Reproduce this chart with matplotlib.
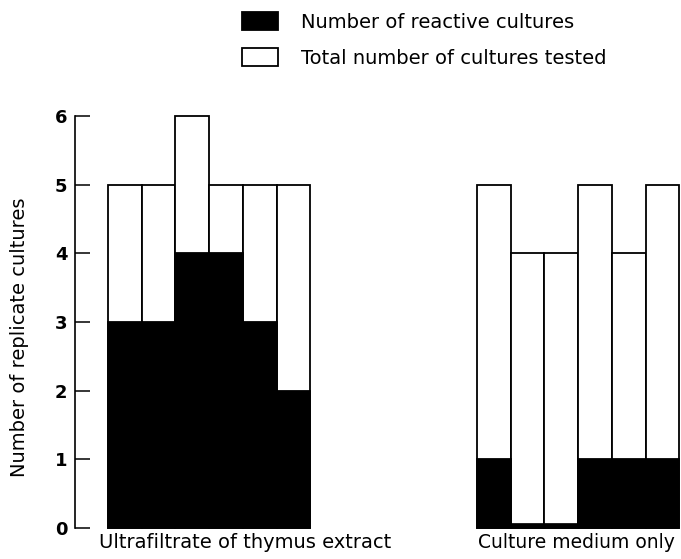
import numpy as np
import matplotlib
matplotlib.use("Agg")
import matplotlib.pyplot as plt
from matplotlib.patches import Patch
from matplotlib.transforms import blended_transform_factory

# counts per culture set
thymus_total = [5, 5, 6, 5, 5, 5]
thymus_reactive = [3, 3, 4, 4, 3, 2]
medium_total = [5, 4, 4, 5, 4, 5]
medium_reactive = [1, 0, 0, 1, 1, 1]
group_labels = ["Ultrafiltrate of thymus extract", "Culture medium only"]
legend_labels = ["Number of reactive cultures", "Total number of cultures tested"]

plt.rcParams['font.family'] = 'DejaVu Sans'
FS = 14

fig = plt.figure(figsize=(6.81, 5.59), dpi=100)
ax = fig.add_axes([75/681, 31/559, 606/681, 412/559])

x1 = np.arange(len(thymus_total))
x2 = np.arange(len(medium_total)) + 10.95

for x, tot, rea in ((x1, thymus_total, thymus_reactive),
                    (x2, medium_total, medium_reactive)):
    ax.bar(x, tot, width=1.0, color='white', edgecolor='black',
           linewidth=1.3, clip_on=False)
    ax.bar(x, rea, width=1.0, color='black', edgecolor='black',
           linewidth=1.3, clip_on=False)
    # thick baseline under each group
    ax.hlines(0, x[0] - 0.5, x[-1] + 0.5, color='black', lw=7)

ax.set_xlim(-1.48, 16.5)
ax.set_ylim(0, 6)
for s in ('top', 'right', 'bottom'):
    ax.spines[s].set_visible(False)
ax.spines['left'].set_linewidth(1.2)
ax.set_xticks([])
ax.set_yticks(range(7))
ax.tick_params(axis='y', direction='in', length=10.5, width=1.1, pad=5.5,
               labelsize=13)
for t in ax.get_yticklabels():
    t.set_fontweight('bold')

tr = blended_transform_factory(ax.transData, fig.transFigure)
ax.text(3.58, 1 - 542/559, group_labels[0], transform=tr, ha='center',
        va='center', fontsize=FS)
ax.text(13.4, 1 - 542/559, group_labels[1], transform=tr, ha='center',
        va='center', fontsize=13.5)

fig.text(20/681, 1 - 337/559, "Number of replicate cultures", rotation=90,
         ha='center', va='center', fontsize=FS)

handles = [Patch(facecolor='black', edgecolor='black', linewidth=1.3),
           Patch(facecolor='white', edgecolor='black', linewidth=1.3)]
fig.legend(handles, legend_labels, loc='upper left',
           bbox_to_anchor=(242/681, 1 - 12/559), frameon=False,
           fontsize=FS, borderpad=0, borderaxespad=0,
           handlelength=1.85, handleheight=1.05, handletextpad=1.2,
           labelspacing=0.85)

fig.savefig("out.png", dpi=100)
